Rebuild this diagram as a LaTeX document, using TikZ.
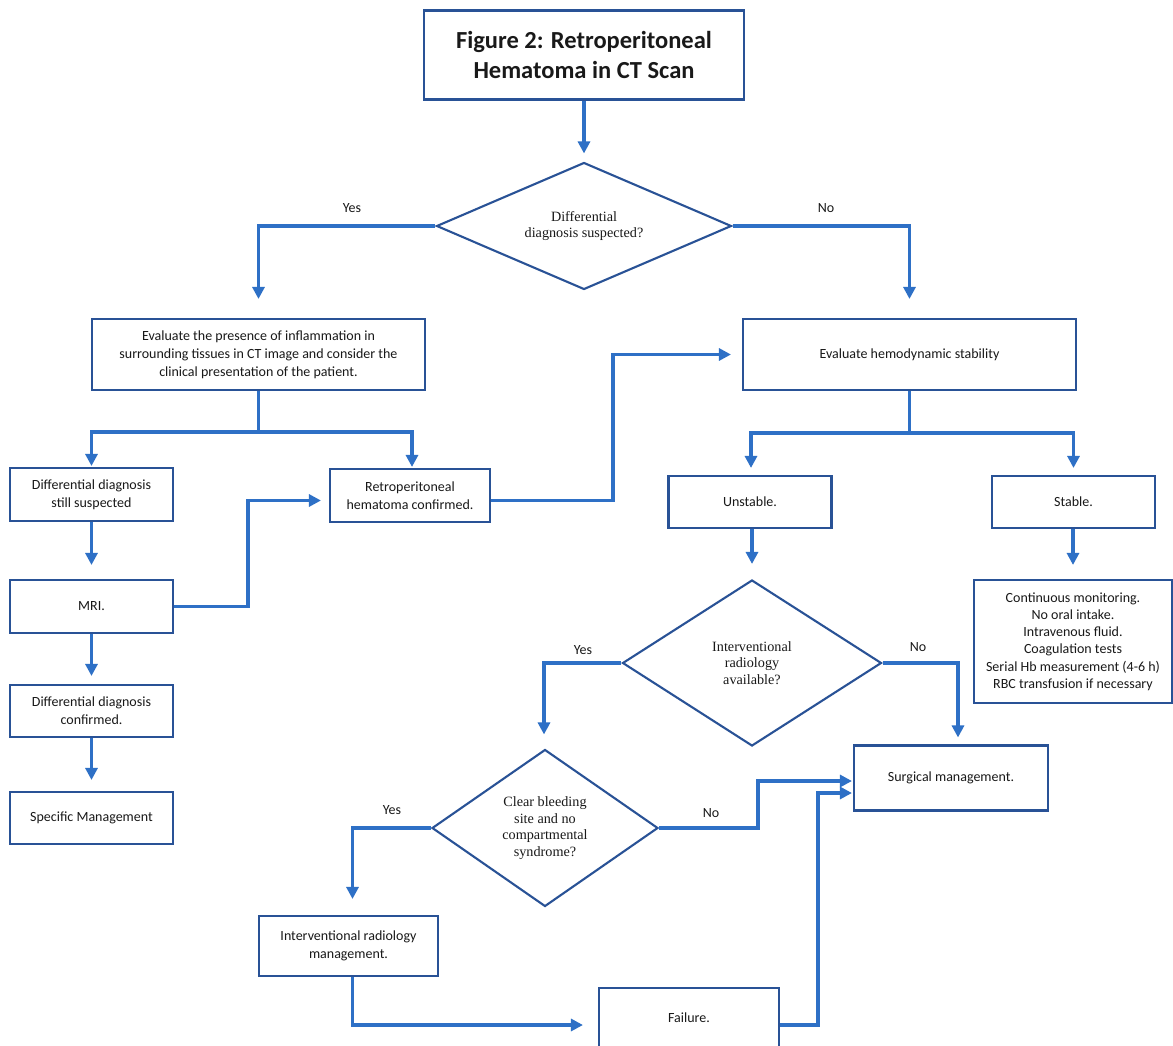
\documentclass[tikz,border=0pt]{standalone}
\usepackage{fontspec}
\setmainfont{Carlito}
\newfontfamily\tnr{Liberation Serif}
\usetikzlibrary{arrows.meta,shapes.geometric}
\definecolor{boxc}{RGB}{41,82,150}
\definecolor{connc}{RGB}{46,112,198}
\definecolor{txt}{RGB}{25,25,25}
\begin{document}
\begin{tikzpicture}[x=1pt,y=-1pt,
 box/.style={draw=boxc,line width=2.1pt,fill=white,rectangle,inner sep=2pt,align=center,text=txt,font=\fontsize{14}{17.8}\selectfont},
 dia/.style={draw=boxc,line width=2.1pt,fill=white,diamond,inner sep=0pt,align=center,text=txt,font=\tnr\fontsize{14.2}{16.6}\selectfont},
 conn/.style={draw=connc,line width=3.2pt,-{Triangle[length=12pt,width=12pt]}},
 plain/.style={draw=connc,line width=3.2pt},
 lab/.style={text=txt,font=\fontsize{14}{17}\selectfont}]

\fill[white] (0,0) rectangle (1173,1046);
\useasboundingbox (0,0) rectangle (1173,1046);

% nodes
\node[box,minimum width=320pt,minimum height=89pt,font=\bfseries\fontsize{24.5}{30}\selectfont] (title) at (584,55) {Figure 2: Retroperitoneal\\Hematoma in CT Scan};
\node[dia,minimum width=295pt,minimum height=127pt,aspect=2.3] (d1) at (584,226) {Differential\\diagnosis suspected?};
\node[box,minimum width=333pt,minimum height=71pt] (ev1) at (258.5,354.5) {Evaluate the presence of inflammation in\\surrounding tissues in CT image and consider the\\clinical presentation of the patient.};
\node[box,minimum width=333pt,minimum height=71pt] (ev2) at (909.5,354.5) {Evaluate hemodynamic stability};
\node[box,minimum width=163pt,minimum height=53pt] (dds) at (91.5,494.5) {Differential diagnosis\\still suspected};
\node[box,minimum width=160pt,minimum height=53pt] (retro) at (410,495.5) {Retroperitoneal\\hematoma confirmed.};
\node[box,minimum width=163pt,minimum height=53pt] (mri) at (91.5,606.5) {MRI.};
\node[box,minimum width=163pt,minimum height=52pt] (ddc) at (91.5,711) {Differential diagnosis\\confirmed.};
\node[box,minimum width=163pt,minimum height=52pt] (spec) at (91.5,818) {Specific Management};
\node[box,minimum width=163pt,minimum height=52pt] (unst) at (750,502) {Unstable.};
\node[box,minimum width=163pt,minimum height=52pt] (stab) at (1073.5,502) {Stable.};
\node[dia,minimum width=259pt,minimum height=166pt,aspect=1.56] (d2) at (752,663) {Interventional\\radiology\\available?};
\node[box,minimum width=198pt,minimum height=123pt,font=\fontsize{14}{17.2}\selectfont] (mon) at (1073,641.5) {Continuous monitoring.\\No oral intake.\\Intravenous fluid.\\Coagulation tests\\Serial Hb measurement (4-6 h)\\RBC transfusion if necessary};
\node[box,minimum width=194pt,minimum height=65pt] (surg) at (951,778) {Surgical management.};
\node[dia,minimum width=226pt,minimum height=157pt,aspect=1.44] (d3) at (545,828) {Clear bleeding\\site and no\\compartmental\\syndrome?};
\node[box,minimum width=179pt,minimum height=60pt] (irm) at (348.5,946) {Interventional radiology\\management.};
\node[box,minimum width=180pt,minimum height=60pt] (fail) at (689,1018) {Failure.};

% labels
\node[lab] (ly1) at (352,208) {Yes};
\node[lab] (ln1) at (826,208) {No};
\node[lab] (ly2) at (583,650) {Yes};
\node[lab] (ln2) at (918,647) {No};
\node[lab] (ly3) at (392,810) {Yes};
\node[lab] (ln3) at (711,813) {No};

% connectors
\draw[conn] (title.south) -- ([yshift=8pt]d1.north);
\draw[conn] (d1.west) -| ([yshift=19pt]ev1.north);
\draw[conn] (d1.east) -| ([yshift=19pt]ev2.north);

\coordinate (b1) at (258.5,432);
\draw[plain] (ev1.south) -- (b1);
\draw[conn] (b1) -| ([yshift=1pt]dds.north);
\draw[conn] (b1) -| ([xshift=2pt,yshift=1pt]retro.north);

\draw[conn] (dds.south) -- ([yshift=14pt]mri.north);
\coordinate (m1) at (248,606.5);
\draw[conn] (mri.east) -- (m1) |- ([xshift=-8pt,yshift=-5pt]retro.west);
\draw[conn] (mri.south) -- ([yshift=8pt]ddc.north);
\draw[conn] (ddc.south) -- ([yshift=11pt]spec.north);

\coordinate (r1) at (613,500.5);
\draw[conn] ([yshift=-5pt]retro.east) -- (r1) |- ([xshift=-11pt]ev2.west);

\coordinate (b2) at (909.5,433);
\draw[plain] (ev2.south) -- (b2);
\draw[conn] (b2) -| ([xshift=1pt,yshift=7pt]unst.north);
\draw[conn] (b2) -| ([yshift=7pt]stab.north);
\draw[conn] (unst.south -| d2.north) -- ([yshift=15pt]d2.north);
\draw[conn] (stab.south -| mon.north) -- ([yshift=14pt]mon.north);

\draw[conn] (d2.west) -| ([xshift=-1pt,yshift=14pt]d3.north);
\draw[conn] (d2.east) -| ([xshift=7pt,yshift=7pt]surg.north);
\draw[conn] (d3.west) -| ([xshift=4pt,yshift=16pt]irm.north);

\coordinate (n3) at (758,828);
\draw[conn] (d3.east) -- (n3) |- ([xshift=-1pt,yshift=-3pt]surg.west);

\coordinate (i1) at (352.5,1025);
\draw[conn] (irm.south -| i1) -- (i1) -- ([xshift=-15pt,yshift=-7pt]fail.west);

\coordinate (f1) at (818,1025);
\draw[conn] ([yshift=-7pt]fail.east) -- (f1) |- ([xshift=-1pt,yshift=-15pt]surg.west);
\end{tikzpicture}
\end{document}
